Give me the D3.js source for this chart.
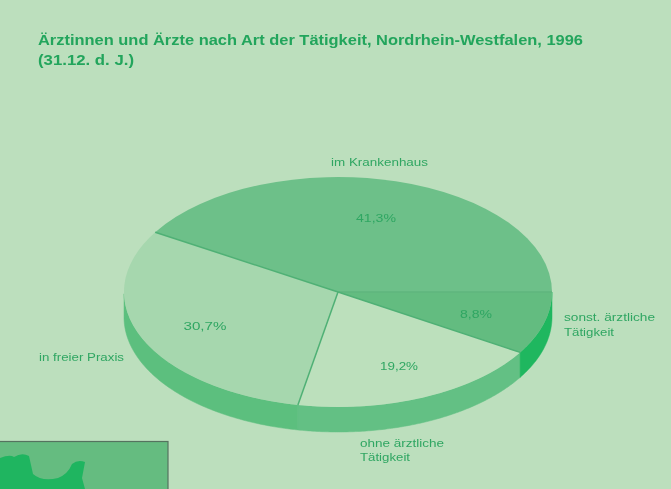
<!DOCTYPE html>
<html><head><meta charset="utf-8">
<script src="https://cdn.jsdelivr.net/npm/d3@7"></script>
<style>html,body{margin:0;padding:0;background:#bcdfbd}svg{display:block;filter:blur(.7px)}text{font-family:"Liberation Sans",Arial,sans-serif}</style>
</head><body><svg width="671" height="489"></svg>
<script>
const categories = ["im Krankenhaus","in freier Praxis","ohne ärztliche Tätigkeit","sonst. ärztliche Tätigkeit"];
const values = [41.3,30.7,19.2,8.8];
const valueLabels = ["41,3%","30,7%","19,2%","8,8%"];
const titleLines = ["Ärztinnen und Ärzte nach Art der Tätigkeit, Nordrhein-Westfalen, 1996","(31.12. d. J.)"];

// layout and styling, separate from the data
const W=671,H=489,cx=338,cy=292,rx=214,ry=115,depth=25;
const topFill=["#6dc089","#a6d7ae","#bce0bc","#63bc80"];
const rimFill=["#5cbd7d","#5cbf7e","#63c084","#1fb75f"];
const titleLayout=[{y:45,w:545},{y:65,w:96}];
const catLayout=[
 {x:331,y:166,split:99,widths:[97]},
 {x:39,y:361,split:99,widths:[85]},
 {x:360,y:447,split:14,widths:[84,50]},
 {x:564,y:321,split:15,widths:[91,50]}];
const pctLayout=[{x:376,y:222,w:40},{x:205,y:330,w:43},{x:399,y:370,w:38},{x:476,y:318,w:32}];

const svg=d3.select("svg");
svg.append("rect").attr("width",W).attr("height",H).attr("fill","#bcdfbd");

svg.append("g").selectAll("text").data(titleLines).join("text")
 .attr("x",38).attr("y",(d,i)=>titleLayout[i].y).attr("font-size",15).attr("font-weight","bold")
 .attr("fill","#22a55c")
 .attr("textLength",(d,i)=>titleLayout[i].w).attr("lengthAdjust","spacingAndGlyphs").text(d=>d);

// d3.pie angle 0 = north; sweep anticlockwise starting from east
const pie=d3.pie().sort(null).value(d=>d).startAngle(Math.PI/2).endAngle(Math.PI/2-2*Math.PI);
const arcs=pie(values);
const px=a=>cx+rx*Math.sin(a), py=a=>cy-ry*Math.cos(a);

// rim: front half only
const line=d3.line();
arcs.forEach((d,i)=>{
  const from=d.endAngle,to=d.startAngle;
  const pts=d3.range(121).map(k=>from+(to-from)*k/120).filter(a=>Math.cos(a)<=1e-6);
  if(pts.length<2)return;
  const ring=pts.map(a=>[px(a),py(a)]).concat(pts.slice().reverse().map(a=>[px(a),py(a)+depth]));
  svg.append("path").attr("d",line(ring)+"Z").attr("fill",rimFill[i]).attr("stroke",rimFill[i]).attr("stroke-width",.5);
});

// top face
const arc=d3.arc().innerRadius(0).outerRadius(rx);
svg.append("g").attr("transform",`translate(${cx},${cy}) scale(1,${ry/rx})`)
 .selectAll("path").data(arcs).join("path").attr("d",arc).attr("fill",(d,i)=>topFill[i]);

// slice borders
const borderCol=["#5fb67e","#4fb075","#4fb075","#4fb075"];
arcs.forEach((d,i)=>{
  svg.append("line").attr("x1",cx).attr("y1",cy).attr("x2",px(d.startAngle)).attr("y2",py(d.startAngle))
   .attr("stroke",borderCol[i]).attr("stroke-width",1.5);
});

// value labels
svg.append("g").selectAll("text").data(valueLabels).join("text")
 .attr("x",(d,i)=>pctLayout[i].x-pctLayout[i].w/2).attr("y",(d,i)=>pctLayout[i].y)
 .attr("font-size",11.5).attr("fill","#2fa662")
 .attr("textLength",(d,i)=>pctLayout[i].w).attr("lengthAdjust","spacingAndGlyphs").text(d=>d);

// category labels, wrapped after the first word group
categories.forEach((c,i)=>{
  const l=catLayout[i];
  const lines=l.widths.length>1?[c.slice(0,c.lastIndexOf(" ")),c.slice(c.lastIndexOf(" ")+1)]:[c];
  lines.forEach((t,k)=>{
    svg.append("text").attr("x",l.x).attr("y",l.y+k*l.split).attr("font-size",11)
     .attr("fill","#2fa662").attr("textLength",l.widths[k]).attr("lengthAdjust","spacingAndGlyphs").text(t);
  });
});

// inset map at bottom-left
svg.append("rect").attr("x",-2).attr("y",441.5).attr("width",170).attr("height",60)
 .attr("fill","#65bc80").attr("stroke","#55735f").attr("stroke-width",1.2);
svg.append("path").attr("d","M0 458 Q10 454 14 457 Q22 452 29 456 L33 474 Q42 482 58 478 Q68 474 72 464 Q78 459 85 462 L82 478 L85 489 L0 489Z").attr("fill","#1fb560");
</script></body></html>
